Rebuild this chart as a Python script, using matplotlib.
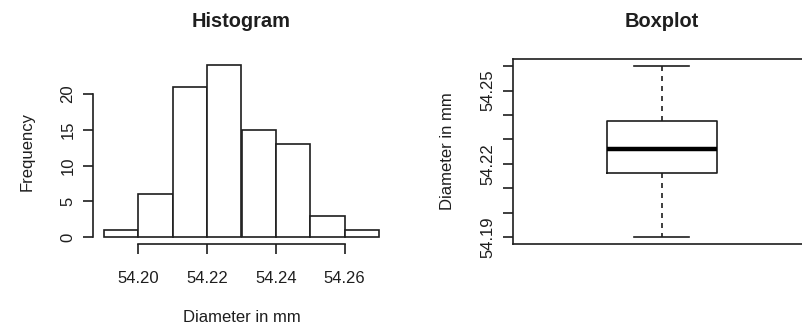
import matplotlib
matplotlib.use("Agg")
import matplotlib.pyplot as plt
import numpy as np

plt.rcParams['font.family'] = ['Liberation Sans', 'DejaVu Sans']

## histogram data (bins of 0.01 mm)
bin_edges = [54.19, 54.20, 54.21, 54.22, 54.23, 54.24, 54.25, 54.26, 54.27]
counts = [1, 6, 21, 24, 15, 13, 3, 1]
hist_xticks = [54.20, 54.22, 54.24, 54.26]
hist_yticks = [0, 5, 10, 15, 20]

## boxplot five-number summary
box_low = 54.190
box_q1 = 54.2161
box_med = 54.2262
box_q3 = 54.2375
box_high = 54.2601
box_yticks = [54.19, 54.20, 54.21, 54.22, 54.23, 54.24, 54.25, 54.26]
box_ylabels = ['54.19', '', '', '54.22', '', '', '54.25', '']

W, H = 803, 326
ink = '#1e1e1e'
lw = 1.2

fig = plt.figure(figsize=(W / 100, H / 100), dpi=100)

def px(x, y):
    # reference pixel -> figure fraction
    return x / W, 1 - y / H

def axes_px(x0, y0, x1, y1):
    return [x0 / W, 1 - y1 / H, (x1 - x0) / W, (y1 - y0) / H]

##histogram
ax1 = fig.add_axes(axes_px(93, 58.4, 390, 244.2))
edges = np.array(bin_edges)
ax1.bar(edges[:-1], counts, width=np.diff(edges), align='edge',
        facecolor='white', edgecolor=ink, linewidth=lw)
xr = edges[-1] - edges[0]
ax1.set_xlim(edges[0] - 0.04 * xr, edges[-1] + 0.04 * xr)
ax1.set_ylim(-0.04 * max(counts), max(counts) * 1.04)
ax1.set_xticks(hist_xticks)
ax1.set_xticklabels(['%.2f' % t for t in hist_xticks])
ax1.set_yticks(hist_yticks)
for s in ['top', 'right']:
    ax1.spines[s].set_visible(False)
ax1.spines['left'].set_bounds(hist_yticks[0], hist_yticks[-1])
ax1.spines['bottom'].set_bounds(hist_xticks[0], hist_xticks[-1])
for s in ['left', 'bottom']:
    ax1.spines[s].set_color(ink)
    ax1.spines[s].set_linewidth(lw)
ax1.tick_params(axis='x', length=7.2, width=lw, color=ink, pad=12.3,
                labelsize=12, labelcolor=ink)
ax1.tick_params(axis='y', length=7.2, width=lw, color=ink, pad=5.4,
                labelsize=12, labelcolor=ink, labelrotation=90)
for lab in ax1.get_yticklabels():
    lab.set_va('center')

##boxplot
ax2 = fig.add_axes(axes_px(513.3, 59, 810, 244))
stats = [{'whislo': box_low, 'q1': box_q1, 'med': box_med,
          'q3': box_q3, 'whishi': box_high, 'fliers': []}]
ax2.bxp(stats, positions=[1], widths=0.4, capwidths=0.2, showfliers=False,
        boxprops=dict(color=ink, linewidth=lw),
        medianprops=dict(color='black', linewidth=3.2, solid_capstyle='butt'),
        whiskerprops=dict(color=ink, linewidth=lw, linestyle=(0, (3, 3))),
        capprops=dict(color=ink, linewidth=lw))
yr = box_high - box_low
ax2.set_ylim(box_low - 0.04 * yr, box_high + 0.04 * yr)
ax2.set_xlim(1 - 0.54, 1 + 0.54)
ax2.set_xticks([])
ax2.set_yticks(box_yticks)
ax2.set_yticklabels(box_ylabels)
for s in ax2.spines.values():
    s.set_color(ink)
    s.set_linewidth(lw)
ax2.tick_params(axis='y', length=7.2, width=lw, color=ink, pad=5.8,
                labelsize=12, labelcolor=ink, labelrotation=90)
for lab in ax2.get_yticklabels():
    lab.set_va('center')

##titles and axis labels
fig.text(*px(241.5, 26.7), 'Histogram', ha='center', va='baseline',
         fontsize=14.4, fontweight='bold', color=ink)
fig.text(*px(661.7, 26.7), 'Boxplot', ha='center', va='baseline',
         fontsize=14.4, fontweight='bold', color=ink)
fig.text(*px(241.5, 321.7), 'Diameter in mm', ha='center', va='baseline',
         fontsize=12, color=ink)
fig.text(*px(31.3, 151.3), 'Frequency', ha='center', va='baseline',
         rotation=90, rotation_mode='anchor', fontsize=12, color=ink)
fig.text(*px(452.5, 151.5), 'Diameter in mm', ha='center', va='baseline',
         rotation=90, rotation_mode='anchor', fontsize=12, color=ink)

fig.savefig('out.png', dpi=100, facecolor='white')
